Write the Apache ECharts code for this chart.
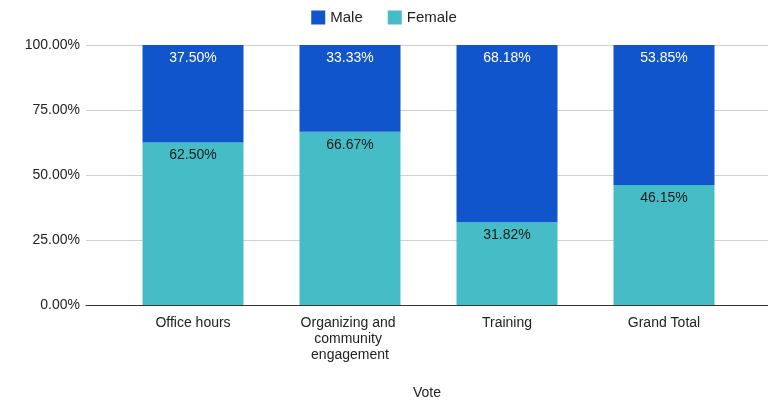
<!DOCTYPE html>
<html>
<head>
<meta charset="utf-8">
<script src="https://cdn.jsdelivr.net/npm/echarts@6/dist/echarts.min.js"></script>
<style>
  html, body { margin: 0; padding: 0; background: #fff; }
  #chart { width: 768px; height: 401px; }
</style>
</head>
<body>
<div id="chart"></div>
<script>
// data
const categories = ['Office hours', 'Organizing and community engagement', 'Training', 'Grand Total']
const maleShare = [37.5, 33.33, 68.18, 53.85]
const femaleShare = [62.5, 66.67, 31.82, 46.15]
const yTicks = [0, 25, 50, 75, 100]

const FONT = 'Liberation Sans, Arial, sans-serif'
const pct = v => Number(v).toFixed(2) + '%'

const chart = echarts.init(document.getElementById('chart'))

const option = {
  animation: false,
  textStyle: { fontFamily: FONT },
  legend: {
    top: 5,
    left: 'center',
    itemWidth: 14,
    itemHeight: 14,
    itemGap: 25,
    icon: 'rect',
    textStyle: { fontSize: 15, color: '#222', fontFamily: FONT },
    data: ['Male', 'Female']
  },
  // grid 0 carries the gridlines, baseline and y labels; grid 1 carries the bars
  grid: [
    { left: 86, right: 0, top: 45, bottom: 96, outerBoundsMode: 'none', containLabel: false },
    { left: 114.5, right: 25.5, top: 45, bottom: 96, outerBoundsMode: 'none', containLabel: false }
  ],
  xAxis: [
    {
      gridIndex: 0,
      type: 'value',
      min: 0,
      max: 1,
      axisLabel: { show: false },
      axisTick: { show: false },
      splitLine: { show: false },
      axisLine: { show: true, lineStyle: { color: '#333', width: 1 } },
      name: 'Vote',
      nameLocation: 'middle',
      nameGap: 81,
      nameTextStyle: { fontSize: 14, color: '#222', fontFamily: FONT }
    },
    {
      gridIndex: 1,
      type: 'category',
      data: categories,
      axisLine: { show: false },
      axisTick: { show: false },
      axisLabel: {
        margin: 10,
        fontSize: 14,
        color: '#222',
        lineHeight: 16,
        width: 130,
        overflow: 'break',
        interval: 0,
        fontFamily: FONT
      }
    }
  ],
  yAxis: [
    {
      gridIndex: 0,
      type: 'value',
      min: yTicks[0],
      max: yTicks[yTicks.length - 1],
      interval: 25,
      axisLine: { show: false },
      axisTick: { show: false },
      axisLabel: {
        margin: 6,
        fontSize: 14,
        color: '#222',
        fontFamily: FONT,
        formatter: v => pct(v)
      },
      splitLine: { lineStyle: { color: '#d0d0d0', width: 1 } }
    },
    {
      gridIndex: 1,
      type: 'value',
      min: 0,
      max: 100,
      show: false
    }
  ],
  series: [
    {
      name: 'Female',
      type: 'bar',
      stack: 'vote',
      xAxisIndex: 1,
      yAxisIndex: 1,
      barWidth: 101,
      itemStyle: { color: '#46BDC6' },
      label: {
        show: true,
        position: 'insideTop',
        distance: 6,
        color: '#1a1a1a',
        fontSize: 14,
        fontFamily: FONT,
        formatter: p => pct(p.value)
      },
      data: femaleShare
    },
    {
      name: 'Male',
      type: 'bar',
      stack: 'vote',
      xAxisIndex: 1,
      yAxisIndex: 1,
      barWidth: 101,
      itemStyle: { color: '#1155CC' },
      label: {
        show: true,
        position: 'insideTop',
        distance: 6,
        color: '#ffffff',
        fontSize: 14,
        fontFamily: FONT,
        formatter: p => pct(p.value)
      },
      data: maleShare
    }
  ]
}

chart.setOption(option)
</script>
</body>
</html>
